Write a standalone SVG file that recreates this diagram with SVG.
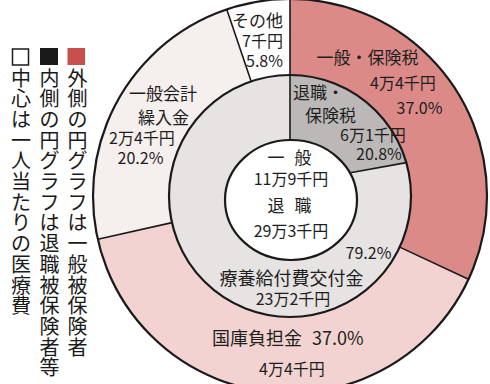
<svg xmlns="http://www.w3.org/2000/svg" width="490" height="384" viewBox="0 0 490 384">
<style>
.t{font-family:"Noto Sans CJK JP","Noto Sans",sans-serif;font-size:17px;fill:#1e1e1e}
.n{font-size:16px}
.lg{font-family:"Noto Sans CJK JP","Noto Sans",sans-serif;font-size:20px;fill:#1a1a1a}
.ring{stroke:#1a1a1a;stroke-width:2.2;fill:none}
.div{stroke:#1a1a1a;stroke-width:1.6;fill:none}
</style>
<rect width="490" height="384" fill="#ffffff"/>
<g id="legend">
<rect x="67.5" y="48" width="17.5" height="17" fill="#c8504c"/>
<rect x="40" y="48" width="18" height="17" fill="#1a1a1a"/>
<rect x="12.5" y="49" width="16" height="16" fill="#fff" stroke="#1a1a1a" stroke-width="1.5"/>
<text class="lg" text-anchor="middle" x="77.5 77.5 77.5 77.5 77.5 77.5 77.5 77.5 77.5 77.5 77.5 77.5 77.5 77.5" y="85.5 106.2 126.9 147.6 168.3 189 209.7 230.4 251.1 271.8 292.5 313.2 333.9 354.6">外側の円グラフは一般被保険者</text>
<text class="lg" text-anchor="middle" x="49.5 49.5 49.5 49.5 49.5 49.5 49.5 49.5 49.5 49.5 49.5 49.5 49.5 49.5 49.5" y="85.5 106.2 126.9 147.6 168.3 189 209.7 230.4 251.1 271.8 292.5 313.2 333.9 354.6 375.3">内側の円グラフは退職被保険者等</text>
<text class="lg" text-anchor="middle" x="21 21 21 21 21 21 21 21 21 21 21 21" y="85.5 106.2 126.9 147.6 168.3 189 209.7 230.4 251.1 271.8 292.5 313.2">中心は一人当たりの医療費</text>
</g>
<g id="seg-ippan-hokenzei">
<path d="M290,196 L290,-1 A197,197 0 0 1 468.5,279.3 Z" fill="#db8a88"/>
</g>
<g id="seg-kokko">
<path d="M290,196 L468.5,279.3 A197,197 0 0 1 97.8,239.3 Z" fill="#f2d3d1"/>
</g>
<g id="seg-ippankaikei">
<path d="M290,196 L97.8,239.3 A197,197 0 0 1 226.8,9.4 Z" fill="#f5efee"/>
</g>
<g id="seg-sonota">
<path d="M290,196 L226.8,9.4 A197,197 0 0 1 290,-1 Z" fill="#fefefe"/>
</g>
<circle class="ring" cx="290" cy="196" r="197"/>
<g id="seg-ryoyo">
<circle cx="290" cy="196" r="121" fill="#e6e3e2"/>
</g>
<g id="seg-taishoku-hokenzei">
<path d="M290,196 L290,75 A121,121 0 0 1 406.3,162.6 L349,173 Z" fill="#bcb8b7"/>
</g>
<circle class="ring" cx="290" cy="196" r="121"/>
<g id="center">
<ellipse cx="291" cy="200" rx="66" ry="60" fill="#ffffff" stroke="#1a1a1a" stroke-width="2.2"/>
</g>
<g id="connectors">
<line class="div" x1="290" y1="140" x2="290" y2="-1"/>
<line class="div" x1="399.7" y1="247.1" x2="468.5" y2="279.3"/>
<line class="div" x1="172" y1="222.6" x2="97.8" y2="239.3"/>
<line class="div" x1="251.2" y1="81.4" x2="226.8" y2="9.4"/>
<line class="div" x1="349" y1="173" x2="406.3" y2="162.6"/>
</g>
<g id="labels">
<text class="t" text-anchor="end"><tspan x="283" y="26.5">その他</tspan><tspan class="n" x="283" y="46.5">7千円</tspan><tspan class="n" x="283" y="66.5">5.8%</tspan></text>
<text class="t" text-anchor="middle"><tspan x="367.5" y="63.5">一般・保険税</tspan><tspan class="n" x="403" y="88.5">4万4千円</tspan><tspan class="n" x="419.5" y="113.5">37.0%</tspan></text>
<text class="t"><tspan x="293" y="98.5">退職・</tspan><tspan x="305" y="121.5">保険税</tspan><tspan class="n" x="340" y="141">6万1千円</tspan><tspan class="n" x="356" y="160">20.8%</tspan></text>
<text class="t" text-anchor="middle"><tspan x="163" y="99.5">一般会計</tspan><tspan x="163.5" y="123.5">繰入金</tspan><tspan class="n" x="142" y="144">2万4千円</tspan><tspan class="n" x="140.5" y="164">20.2%</tspan></text>
<text class="t" text-anchor="middle"><tspan x="291" y="163.5" letter-spacing="3">一 般</tspan><tspan class="n" x="291" y="185">11万9千円</tspan><tspan x="291" y="211.5" letter-spacing="3">退 職</tspan><tspan class="n" x="291" y="236.5">29万3千円</tspan></text>
<text class="t n" text-anchor="middle" x="368.5" y="258.5">79.2%</text>
<text class="t" text-anchor="middle"><tspan x="291.5" y="284.5" style="font-size:18px">療養給付費交付金</tspan><tspan class="n" x="293" y="305">23万2千円</tspan></text>
<text class="t" style="font-size:18px"><tspan x="212" y="344.8">国庫負担金</tspan><tspan x="312" y="344.8">37.0%</tspan></text>
<text class="t n" text-anchor="middle" x="292" y="374.5">4万4千円</text>
</g>
</svg>
